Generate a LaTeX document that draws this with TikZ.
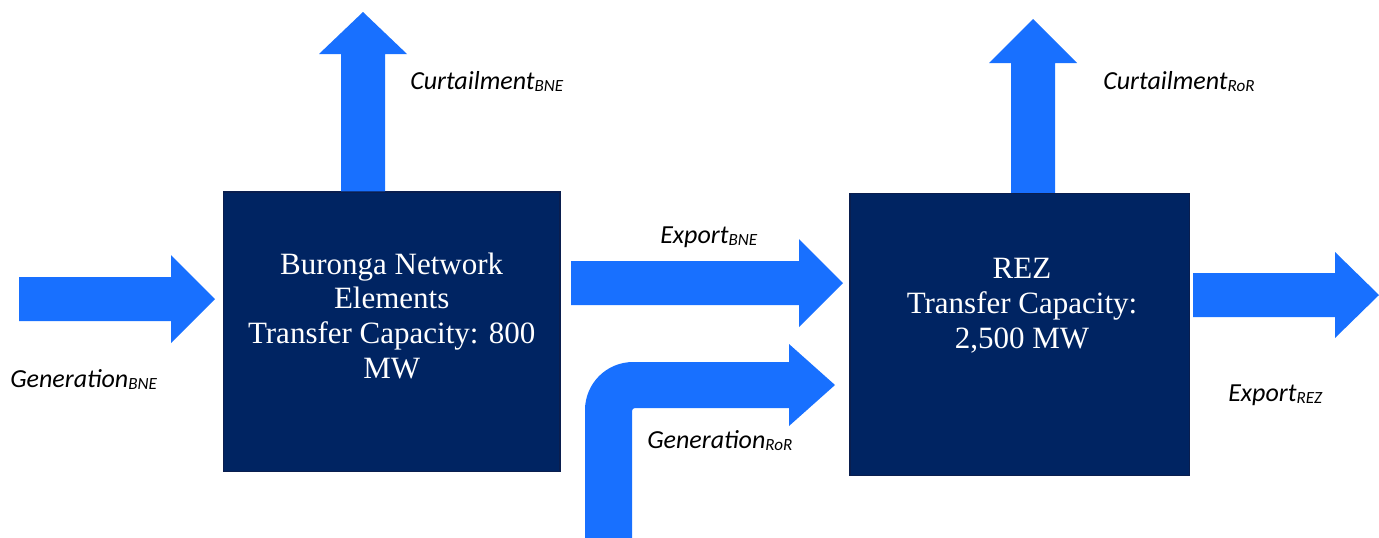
\documentclass[tikz,border=0pt]{standalone}
\usepackage{fontspec}
\newfontfamily\labfont{Carlito}
\newfontfamily\boxfont{Liberation Serif}
\definecolor{arrowblue}{HTML}{1870FF}
\definecolor{boxnavy}{HTML}{002462}
\definecolor{boxedge}{HTML}{0A1E4E}
\newcommand{\lbl}[2]{{\labfont\itshape\fontsize{19.5}{22}\selectfont #1\raisebox{-1.6pt}{\fontsize{12.8}{14}\selectfont #2}}}
\tikzset{
  blockbox/.style={rectangle, fill=boxnavy, draw=boxedge, line width=0.8pt, inner sep=0pt},
  boxtext/.style={text=white, align=center, inner sep=0pt, font=\boxfont\fontsize{23.25}{26}\selectfont},
  flowlabel/.style={anchor=base west, inner sep=0pt, text=black},
  blockarrow/.style={fill=arrowblue, draw=none}
}
\begin{document}
\begin{tikzpicture}[x=0.75pt,y=-0.75pt]
\useasboundingbox (0,0) rectangle (1379,537);
% boxes
\node[blockbox, minimum width=252.4pt, minimum height=209.3pt] (bne) at (391.7,331.5) {};
\node[blockbox, minimum width=254.3pt, minimum height=211.3pt] (rez) at (1019.5,334.2) {};
% Generation BNE arrow
\fill[blockarrow] (19,277) -- (171,277) -- (171,255) -- (215,299) -- (171,343) -- (171,321) -- (19,321) -- cycle;
% Curtailment BNE arrow
\fill[blockarrow] (341,0 |- bne.north) -- (341,54) -- (319,54) -- (363,12) -- (407,54) -- (385,54) -- (385,0 |- bne.north) -- cycle;
% Export BNE arrow
\fill[blockarrow] (571,261) -- (799,261) -- (799,239) -- (843,283) -- (799,327) -- (799,305) -- (571,305) -- cycle;
% Generation RoR bent arrow
\fill[blockarrow] (585,540) -- (585,410) .. controls (585,383.5) and (606.5,362) .. (633,362) -- (789,362) -- (789,344) -- (835,385) -- (789,426) -- (789,408) -- (635,408) .. controls (633.3,408) and (632,409.3) .. (632,411) -- (632,540) -- cycle;
% Curtailment RoR arrow
\fill[blockarrow] (1011,0 |- rez.north) -- (1011,63) -- (989,63) -- (1033,19) -- (1077,63) -- (1055,63) -- (1055,0 |- rez.north) -- cycle;
% Export REZ arrow
\fill[blockarrow] (1193,273) -- (1335,273) -- (1335,252) -- (1379,295) -- (1335,338) -- (1335,317) -- (1193,317) -- cycle;
% box texts
\node[boxtext, anchor=base] (bnetext) at (391.7,378) {Buronga Network\\Elements\\Transfer Capacity: 800\\MW};
\node[boxtext, anchor=base] (reztext) at (1022,348) {REZ\\Transfer Capacity:\\2,500 MW};
% labels
\node[flowlabel] (lgenbne) at (10,387) {\lbl{Generation}{BNE}};
\node[flowlabel] (lcurbne) at (410,89) {\lbl{Curtailment}{BNE}};
\node[flowlabel] (lexpbne) at (660,243) {\lbl{Export}{BNE}};
\node[flowlabel] (lgenror) at (647,448) {\lbl{Generation}{RoR}};
\node[flowlabel] (lcurror) at (1103,89) {\lbl{Curtailment}{RoR}};
\node[flowlabel] (lexprez) at (1228,401) {\lbl{Export}{REZ}};
\end{tikzpicture}
\end{document}
